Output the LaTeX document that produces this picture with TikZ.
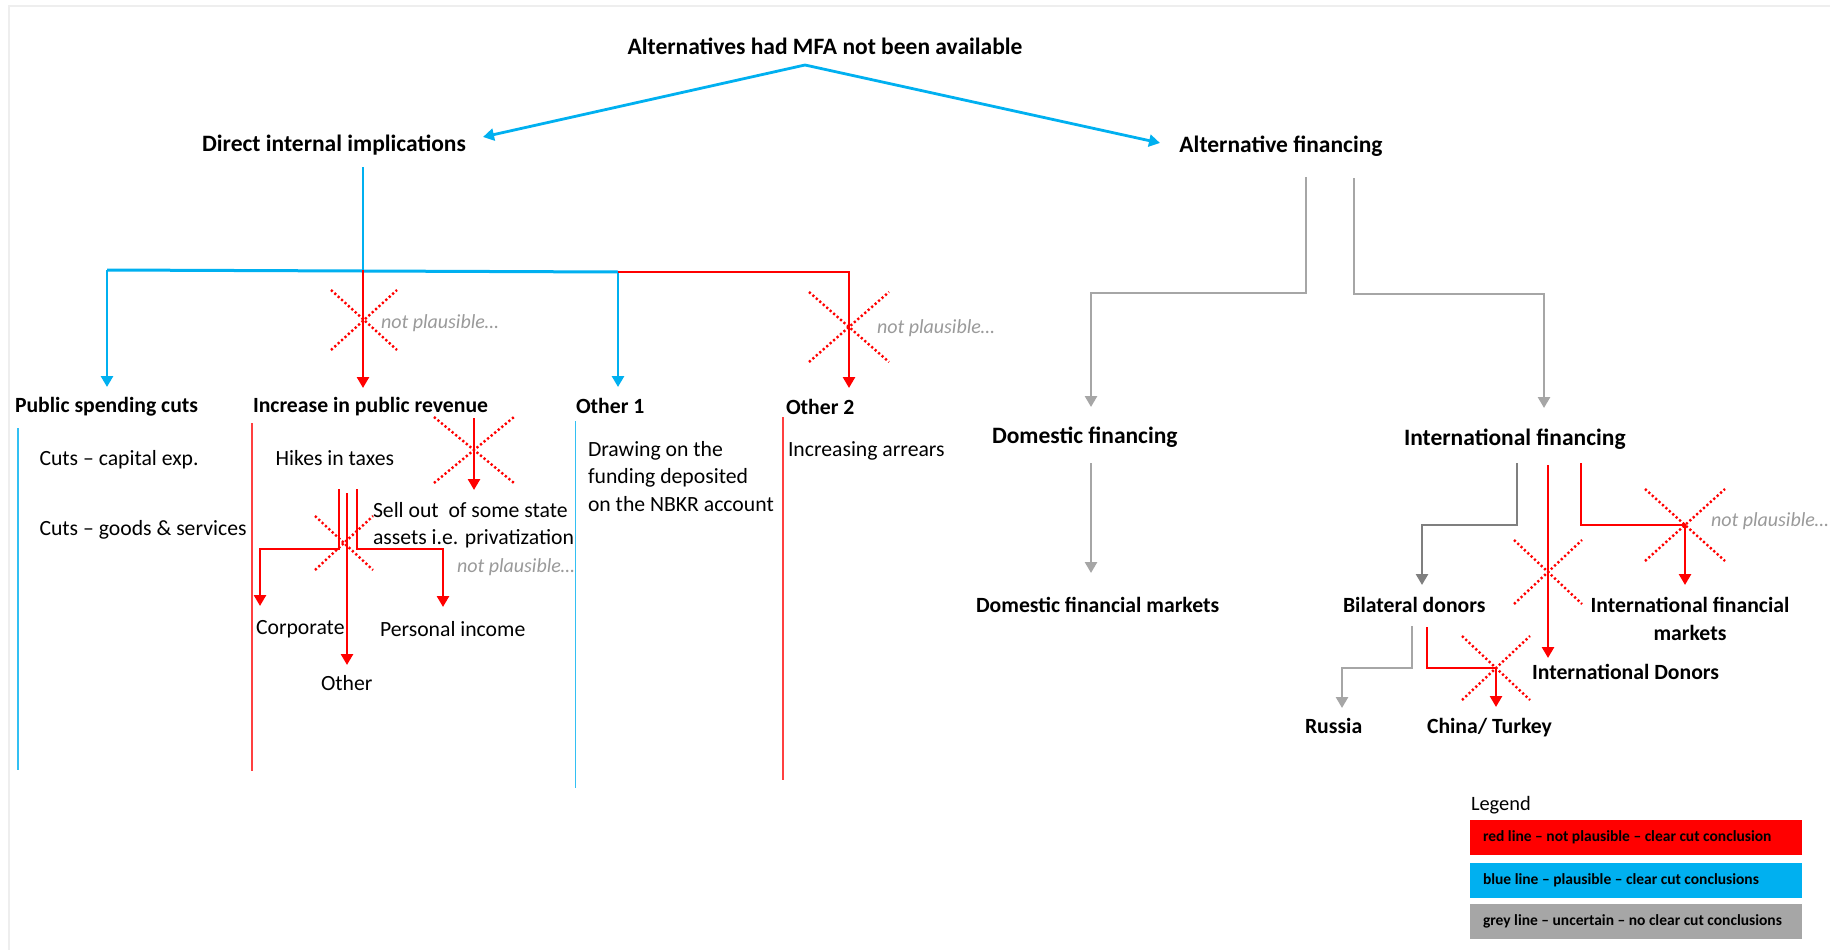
\documentclass[tikz,border=0pt]{standalone}
\usepackage{fontspec}
\setmainfont{Carlito}
\usetikzlibrary{arrows.meta}
\definecolor{cblue}{HTML}{00B0F0}
\definecolor{cred}{HTML}{FF0000}
\definecolor{cgrey}{HTML}{A6A6A6}
\definecolor{cdgrey}{HTML}{7F7F7F}
\definecolor{cnp}{HTML}{9A9A9A}
\definecolor{cframe}{HTML}{EEEEEE}
\tikzset{
  pics/xcross/.style args={#1/#2}{code={
    \draw[red, line width=2.4pt, dash pattern=on 2.2pt off 2.4pt] (-#1,-#2) -- (#1,#2) (-#1,#2) -- (#1,-#2);
  }}
}
\begin{document}
\begin{tikzpicture}[x=1pt,y=-1pt,
  every node/.style={inner sep=0pt, outer sep=0pt},
  hone/.style={font=\bfseries\fontsize{23.5}{28}\selectfont},
  htwo/.style={font=\bfseries\fontsize{21.7}{28}\selectfont},
  body/.style={font=\fontsize{21.7}{27.5}\selectfont, align=left},
  np/.style={font=\itshape\fontsize{20}{24}\selectfont, text=cnp},
  tip/.style={-{Triangle[width=12pt,length=11pt]}},
  bl/.style={cblue, line width=2.8pt},
  rd/.style={cred, line width=2.6pt},
  gr/.style={cgrey, line width=2.6pt},
  dgr/.style={cdgrey, line width=2.6pt},
  thinb/.style={cblue!80, line width=1.7pt},
  thinr/.style={cred!75, line width=1.7pt},
  lbox/.style={minimum width=332pt, minimum height=35pt, anchor=north west},
  ltxt/.style={font=\bfseries\fontsize{15.5}{18}\selectfont, anchor=west},
]
\fill[white] (0,0) rectangle (1830,950);
\useasboundingbox (0,0) rectangle (1830,950);
\draw[cframe, line width=2pt] (1830,6) -- (9,6) -- (9,950);

% ---------- headings ----------
\node[hone, anchor=base] (title) at (825,54.5) {Alternatives had MFA not been available};
\node[hone, anchor=base] (dii) at (334,151.5) {Direct internal implications};
\node[hone, anchor=base] (af) at (1281,152.5) {Alternative financing};
\node[htwo, anchor=base west] (psc) at (15,412) {Public spending cuts};
\node[htwo, anchor=base west] (ipr) at (253,412) {Increase in public revenue};
\node[htwo, anchor=base west] (o1) at (576,413) {Other 1};
\node[htwo, anchor=base west] (o2) at (786,414) {Other 2};
\node[hone, anchor=base west] (df) at (992,443.5) {Domestic financing};
\node[hone, anchor=base west] (if) at (1404,445.5) {International financing};
\node[htwo, anchor=base west] (dfm) at (976,612) {Domestic financial markets};
\node[htwo, anchor=base west] (bd) at (1343,612) {Bilateral donors};
\node[htwo, anchor=north, align=center] (ifm) at (1690,594) {\rule{0pt}{18pt}International financial\\markets};
\node[htwo, anchor=base west] (id) at (1532,679) {International Donors};
\node[htwo, anchor=base west] (ru) at (1305,733) {Russia};
\node[htwo, anchor=base west] (ct) at (1427,733) {China/ Turkey};

% ---------- body texts ----------
\node[body, anchor=base west] (cap) at (39.5,465) {Cuts – capital exp.};
\node[body, anchor=base west] (gs) at (39.5,535) {Cuts – goods \& services};
\node[body, anchor=base west] (hik) at (275.6,465) {Hikes in taxes};
\node[body, anchor=north west] (sell) at (373,499) {\rule{0pt}{18pt}Sell out\ \ of some state\\assets i.e. privatization};
\node[body, anchor=base west] (corp) at (256,634) {Corporate};
\node[body, anchor=base west] (pers) at (380,636) {Personal income};
\node[body, anchor=base west] (oth) at (321,690) {Other};
\node[body, anchor=north west] (drw) at (588,438) {\rule{0pt}{18pt}Drawing on the\\funding deposited\\on the NBKR account};
\node[body, anchor=base west] (arr) at (788,456) {Increasing arrears};

\node[np, anchor=base west] (np1) at (381,328.5) {not plausible…};
\node[np, anchor=base west] (np2) at (457,572.5) {not plausible…};
\node[np, anchor=base west] (np3) at (877,333.5) {not plausible…};
\node[np, anchor=base west] (np4) at (1711,526.5) {not plausible…};

% ---------- left tree ----------
\coordinate (apex) at (805,65);
\coordinate (tl) at (483,137);
\coordinate (tr) at (1160,143);
\draw[bl, tip] (apex) -- (tl);
\draw[bl, tip] (apex) -- (tr);
\coordinate (d0) at (363,167);
\coordinate (d1) at (363,270);
\draw[cblue, line width=2pt] (d0) -- (d1);
\coordinate (hL) at (107,270);
\coordinate (hM) at (618,272);
\coordinate (hR) at (849,272);
\coordinate (aPsc) at (107,387);
\coordinate (aO1) at (618,387);
\coordinate (aIpr) at (363,388);
\coordinate (aO2) at (849,388);
\draw[bl, line width=3pt] (hL) -- (hM);
\draw[bl, tip] (hL) -- (aPsc);
\draw[bl, tip] (hM) -- (aO1);
\draw[rd, tip] (d1) -- (aIpr);
\draw[rd, tip] (hM) -- (hR) -- (aO2);
\pic at (364,320) {xcross=33/30};
\pic at (849,327) {xcross=40/35};

% thin lines under headings
\draw[thinb] (17.8,428) -- (17.8,770);
\draw[thinr] (252,423) -- (252,771);
\draw[thinb] (575.5,421) -- (575.5,788);
\draw[thinr] (782.7,417) -- (782.7,780);

% revenue sub-tree
\coordinate (s0) at (474,418);
\coordinate (s1) at (474,490);
\draw[rd, tip] (s0) -- (s1);
\pic at (474,450) {xcross=40/33};
\coordinate (tA) at (339,489);
\coordinate (tB) at (347,493);
\coordinate (tC) at (357,489);
\coordinate (aCorp) at (260,606);
\coordinate (aOth) at (347,665);
\coordinate (aPers) at (443,607);
\draw[rd, tip] (tA) -- (339,549) -- (260,549) -- (aCorp);
\draw[rd, tip] (tB) -- (aOth);
\draw[rd, tip] (tC) -- (357,549) -- (443,549) -- (aPers);
\pic at (344,543) {xcross=29/27};

% ---------- right tree ----------
\coordinate (g0) at (1306,177);
\coordinate (g1) at (1354,178);
\coordinate (aDf) at (1091,407);
\coordinate (aIf) at (1544,408);
\draw[gr, tip] (g0) -- (1306,293) -- (1091,293) -- (aDf);
\draw[gr, tip] (g1) -- (1354,294) -- (1544,294) -- (aIf);
\coordinate (g2) at (1091,463);
\coordinate (aDfm) at (1091,573);
\draw[gr, tip] (g2) -- (aDfm);

\coordinate (i0) at (1517,463);
\coordinate (aBd) at (1422,585);
\draw[dgr, tip] (i0) -- (1517,525) -- (1422,525) -- (aBd);
\coordinate (i1) at (1548,465);
\coordinate (aId) at (1548,658);
\draw[rd, tip] (i1) -- (aId);
\pic at (1548,572) {xcross=34/32};
\coordinate (i2) at (1581,463);
\coordinate (aIfm) at (1685,585);
\draw[rd, tip] (i2) -- (1581,525) -- (1685,525) -- (aIfm);
\pic at (1685,525) {xcross=40/36};

\coordinate (b0) at (1412,626);
\coordinate (aRu) at (1342,708);
\draw[gr, tip] (b0) -- (1412,668) -- (1342,668) -- (aRu);
\coordinate (b1) at (1427,627);
\coordinate (aCt) at (1496,707);
\draw[rd, tip] (b1) -- (1427,668) -- (1496,668) -- (aCt);
\pic at (1496,668) {xcross=34/32};

% ---------- legend ----------
\node[font=\fontsize{20.4}{24}\selectfont, anchor=base west] (leg) at (1471,810) {Legend};
\node[lbox, fill=cred] (lred) at (1470,820) {};
\node[lbox, fill=cblue] (lblue) at (1470,863) {};
\node[lbox, fill=cgrey] (lgrey) at (1470,904) {};
\node[ltxt] (tred) at ([xshift=13pt]lred.west) {red line – not plausible – clear cut conclusion};
\node[ltxt] (tblue) at ([xshift=13pt]lblue.west) {blue line – plausible – clear cut conclusions};
\node[ltxt] (tgrey) at ([xshift=13pt]lgrey.west) {grey line – uncertain – no clear cut conclusions};
\end{tikzpicture}
\end{document}
